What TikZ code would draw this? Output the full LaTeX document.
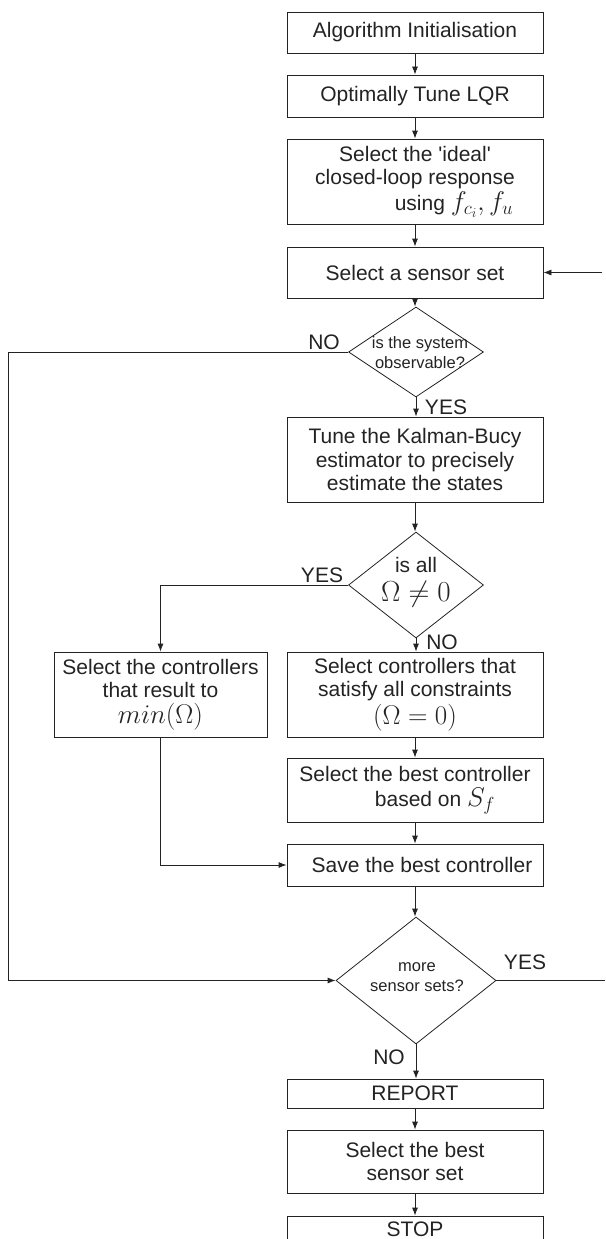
\RequirePackage{fix-cm}
\documentclass[tikz,border=0pt]{standalone}
\usepackage{fontspec}
\newfontfamily\arialf{Liberation Sans}
\usetikzlibrary{shapes.geometric,arrows.meta}
\definecolor{ink}{RGB}{35,35,35}
\newcommand{\mth}[1]{{\fontsize{27}{23.5}\selectfont$#1$}}
\newcommand{\mthb}[1]{{\fontsize{29}{23.5}\selectfont$#1$}}
\begin{document}
\begin{tikzpicture}[x=1pt,y=-1pt,
  every node/.style={font=\arialf\fontsize{21}{23.5}\selectfont, text=ink},
  box/.style={draw=ink, line width=0.8pt, rectangle, inner sep=0pt, minimum width=256pt, align=center},
  dia/.style={draw=ink, line width=0.8pt, diamond, inner sep=0pt},
  small/.style={font=\arialf\fontsize{16.5}{20}\selectfont},
  lbl/.style={inner sep=0pt},
  arr/.style={draw=ink, line width=0.8pt, -{Latex[length=8pt,width=6pt]}},
  ln/.style={draw=ink, line width=0.8pt}]
\useasboundingbox (0,0) rectangle (605,1239);

% boxes
\node[box, minimum height=41pt] (b1) at (415,32.5) {Algorithm Initialisation};
\node[box, minimum height=42pt] (b2) at (415,96) {Optimally Tune LQR};
\node[box, minimum height=85pt] (b3) at (415,181.5) {Select the 'ideal'\\closed-loop response\\[2pt]\hspace*{78pt}using \mth{f_{c_i}, f_u}};
\node[box, minimum height=51pt] (b4) at (415,272.5) {Select a sensor set};
\node[box, minimum height=85pt] (kal) at (415,459.5) {Tune the Kalman-Bucy\\estimator to precisely\\estimate the states};
\node[box, minimum width=213pt, minimum height=85pt] (lb) at (160.5,694.5) {Select the controllers\\that result to\\[2pt]\mth{min(\Omega)}};
\node[box, minimum height=85pt] (rb) at (415,694.5) {Select controllers that\\satisfy all constraints\\[2pt]\mth{(\Omega=0)}};
\node[box, minimum height=64pt] (best) at (415,790) {Select the best controller\\[2pt]\hspace*{40pt}based on \mth{S_f}};
\node[box, minimum height=42pt] (save) at (415,865) {\hspace*{14pt}Save the best controller};
\node[box, minimum height=29pt] (rep) at (415,1093.5) {REPORT};
\node[box, minimum height=63pt] (sel) at (415,1161.5) {Select the best\\sensor set};
\node[box, minimum height=27pt] (stop) at (415,1229.5) {STOP};

% diamonds
\node[dia, minimum width=135pt, minimum height=90pt] (d1) at (416,352) {};
\node[small, align=center, inner sep=0pt] (d1t) at (420,353) {is the system\\observable?};
\node[dia, minimum width=135pt, minimum height=106pt] (d2) at (416,585) {};
\node[align=center, inner sep=0pt] (d2t) at (416,582) {is all\\[5pt]\mthb{\Omega\neq 0}};
\node[dia, minimum width=160pt, minimum height=127pt] (d3) at (416,980.5) {};
\node[small, align=center, inner sep=0pt] (d3t) at (417,977) {more\\sensor sets?};

% labels
\node[lbl] (no1) at (324,342) {NO};
\node[lbl] (yes1) at (446,407) {YES};
\node[lbl] (yes2) at (322,575) {YES};
\node[lbl] (no2) at (442,642) {NO};
\node[lbl] (yes3) at (525,962) {YES};
\node[lbl] (no3) at (389,1057) {NO};

% helper coordinates
\coordinate (rin) at (602,272.5);
\coordinate (rout) at (605,980.5);
\coordinate (lx) at (8,600);

% connectors
\draw[arr] (b1) -- (b2);
\draw[arr] (b2) -- (b3);
\draw[arr] (b3) -- (b4);
\draw[arr] (rin) -- (b4.east);
\draw[arr] (b4.south) -- (b4.south |- d1.north);
\draw[ln] (d1.west) -| (lx);
\draw[arr] (lx) |- (d3.west);
\draw[arr] (d1.south) -- (d1.south |- kal.north);
\draw[arr] (kal.south) -- (kal.south |- d2.north);
\draw[arr] (d2.west) -| (lb.north);
\draw[arr] (d2.south) -- (d2.south |- rb.north);
\draw[arr] (rb) -- (best);
\draw[arr] (best) -- (save);
\draw[arr] (lb.south) |- (save.west);
\draw[arr] (save.south) -- (save.south |- d3.north);
\draw[ln] (d3.east) -- (rout);
\draw[arr] (d3.south) -- (d3.south |- rep.north);
\draw[arr] (rep) -- (sel);
\draw[arr] (sel) -- (stop);
\end{tikzpicture}
\end{document}
